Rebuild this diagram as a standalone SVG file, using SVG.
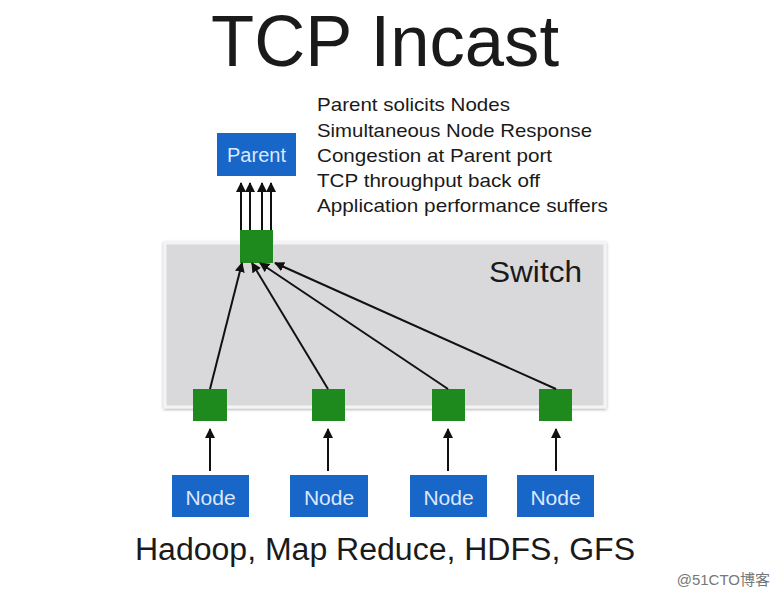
<svg xmlns="http://www.w3.org/2000/svg" width="779" height="600" viewBox="0 0 779 600">
<defs>
<style>
.t{font-family:"Liberation Sans",Arial,sans-serif;fill:#1a1a1a}
.lbl{font-family:"Liberation Sans",Arial,sans-serif;fill:#dbe8ff;font-size:20px;text-anchor:middle}
.nd{font-size:21px}
.box{fill:#1766c8}
.port{fill:#1e8a1e}
.c{stroke:#111;stroke-width:2;fill:none;marker-end:url(#ah)}
</style>
<marker id="ah" viewBox="0 0 10 10" refX="9" refY="5" markerWidth="5" markerHeight="5" orient="auto"><path d="M0,0 L10,5 L0,10 z" fill="#111"/></marker>
<filter id="sh" x="-5%" y="-5%" width="110%" height="115%"><feDropShadow dx="0" dy="1" stdDeviation="1.5" flood-color="#000" flood-opacity="0.35"/></filter>
</defs>
<rect width="779" height="600" fill="#fff"/>
<text class="t" x="385" y="66" font-size="72" text-anchor="middle" textLength="348" lengthAdjust="spacingAndGlyphs">TCP Incast</text>
<g id="switch">
<rect x="165" y="243" width="440" height="164" fill="#d9d9dc" stroke="#f4f4f4" stroke-width="3" filter="url(#sh)"/>
<text class="t" x="489" y="282" font-size="30" textLength="93" lengthAdjust="spacingAndGlyphs">Switch</text>
</g>
<g id="text-list" class="t" font-size="19" fill="#222">
<text x="317" y="111" textLength="193" lengthAdjust="spacingAndGlyphs">Parent solicits Nodes</text>
<text x="317" y="137" textLength="275" lengthAdjust="spacingAndGlyphs">Simultaneous Node Response</text>
<text x="317" y="162" textLength="235" lengthAdjust="spacingAndGlyphs">Congestion at Parent port</text>
<text x="317" y="187" textLength="223" lengthAdjust="spacingAndGlyphs">TCP throughput back off</text>
<text x="317" y="212" textLength="291" lengthAdjust="spacingAndGlyphs">Application performance suffers</text>
</g>
<g id="parent"><rect class="box" x="217" y="133" width="79" height="43"/><text class="lbl" x="256.5" y="162">Parent</text></g>
<g id="port-top"><rect class="port" x="240" y="230" width="33" height="33"/></g>
<g id="port-1"><rect class="port" x="193" y="389" width="34" height="32"/></g>
<g id="port-2"><rect class="port" x="312" y="389" width="33" height="32"/></g>
<g id="port-3"><rect class="port" x="432" y="389" width="33" height="32"/></g>
<g id="port-4"><rect class="port" x="539" y="389" width="33" height="32"/></g>
<g id="node-1"><rect class="box" x="172" y="475" width="77" height="42"/><text class="lbl nd" x="210.5" y="505">Node</text></g>
<g id="node-2"><rect class="box" x="290" y="475" width="78" height="42"/><text class="lbl nd" x="329" y="505">Node</text></g>
<g id="node-3"><rect class="box" x="410" y="475" width="77" height="42"/><text class="lbl nd" x="448.5" y="505">Node</text></g>
<g id="node-4"><rect class="box" x="517" y="475" width="77" height="42"/><text class="lbl nd" x="555.5" y="505">Node</text></g>
<g id="connectors">
<path class="c" d="M241,230 V183"/>
<path class="c" d="M250,230 V183"/>
<path class="c" d="M262,230 V183"/>
<path class="c" d="M271,230 V183"/>
<path class="c" d="M210,389 L242,263"/>
<path class="c" d="M328,389 L252,263"/>
<path class="c" d="M448,389 L260,263"/>
<path class="c" d="M556,389 L275,263"/>
<path class="c" d="M210,471 V429"/>
<path class="c" d="M328,471 V429"/>
<path class="c" d="M448,471 V429"/>
<path class="c" d="M556,471 V429"/>
</g>
<text class="t" x="385" y="560" font-size="31" text-anchor="middle" textLength="500" lengthAdjust="spacingAndGlyphs">Hadoop, Map Reduce, HDFS, GFS</text>
<text x="770" y="585" font-size="15" fill="#777" text-anchor="end" font-family="'Liberation Sans','Noto Sans CJK SC',sans-serif">@51CTO博客</text>
</svg>
